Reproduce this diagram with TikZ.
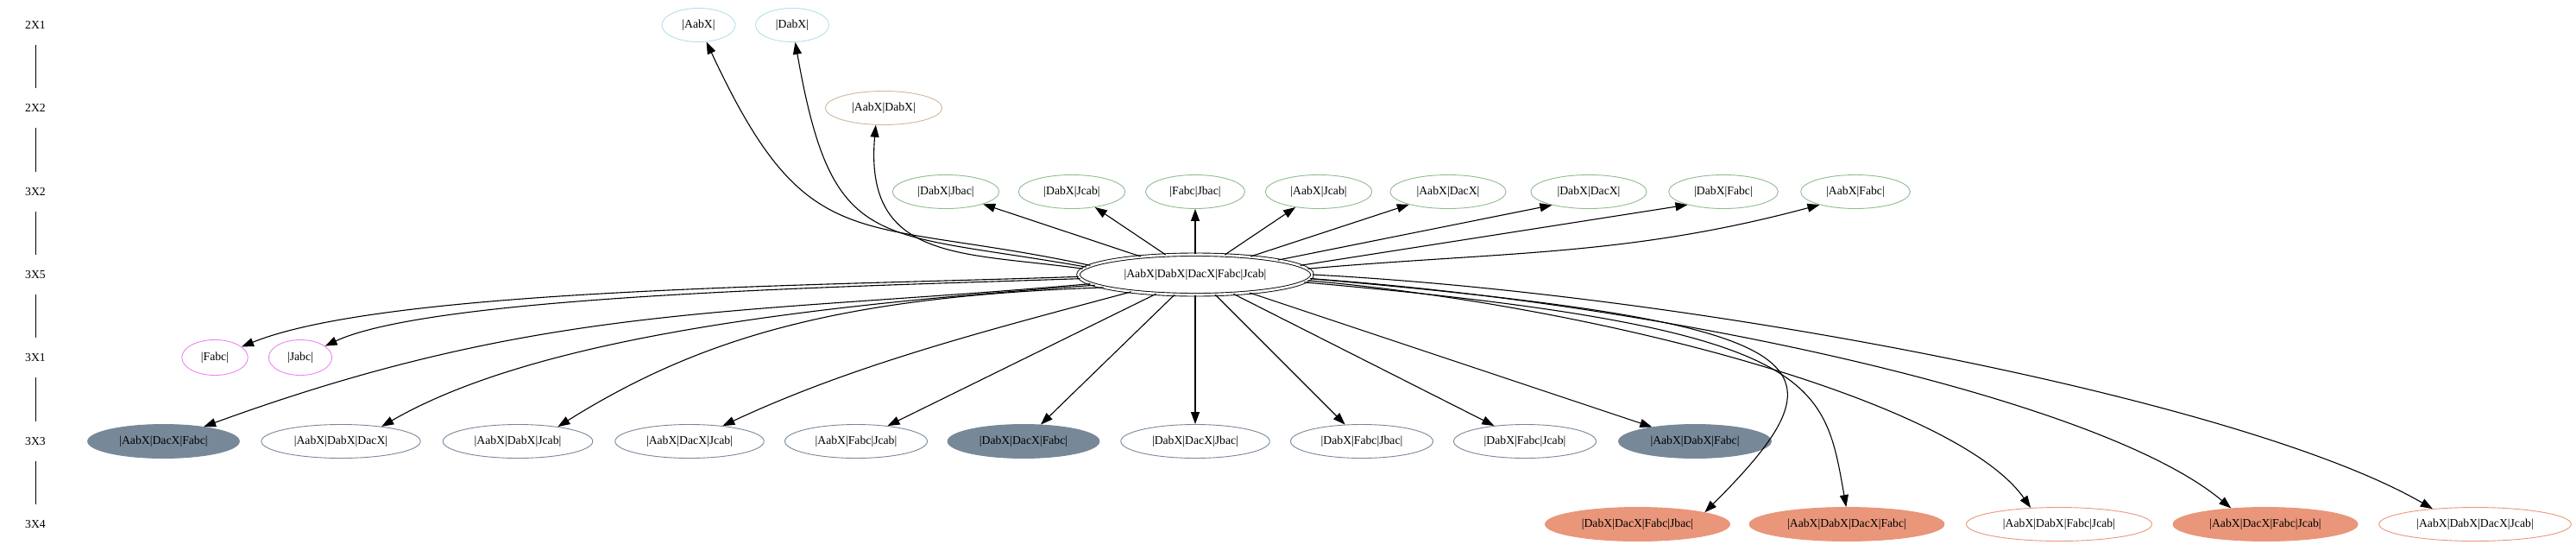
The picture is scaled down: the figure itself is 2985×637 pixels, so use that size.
\documentclass[tikz,border=0pt]{standalone}
\usepackage{fontspec}
\setmainfont{Liberation Serif}
\usetikzlibrary{shapes.geometric,arrows.meta}
\definecolor{pbl}{HTML}{B0E0E6}
\definecolor{bsq}{HTML}{CDB79E}
\definecolor{dsg}{HTML}{8FBC8F}
\definecolor{vio}{HTML}{EE82EE}
\definecolor{lsg}{HTML}{778899}
\definecolor{dsl}{HTML}{E9967A}

\begin{document}
\begin{tikzpicture}[x=0.5pt,y=0.5pt,
	>={Triangle[length=7pt,width=5pt]},
	every node/.style={font=\fontsize{6.85}{8}\selectfont},
	rowlab/.style={inner sep=0pt,minimum height=23pt},
	elli/.style={ellipse,draw,line width=0.45pt,inner xsep=5.5pt,inner ysep=0pt,minimum height=19.5pt},
	link/.style={->,line width=0.55pt}]
		\useasboundingbox (0,0) rectangle (2985,-637);
		\node[rowlab] (r1) at (41,-29) {2X1};
		\node[rowlab] (r2) at (41,-125) {2X2};
		\node[rowlab] (r3) at (41,-222) {3X2};
		\node[rowlab] (r4) at (41,-318) {3X5};
		\node[rowlab] (r5) at (41,-414) {3X1};
		\node[rowlab] (r6) at (41,-511) {3X3};
		\node[rowlab] (r7) at (41,-607) {3X4};
		\draw [line width=0.45pt] (r1) -- (r2);
		\draw [line width=0.45pt] (r2) -- (r3);
		\draw [line width=0.45pt] (r3) -- (r4);
		\draw [line width=0.45pt] (r4) -- (r5);
		\draw [line width=0.45pt] (r5) -- (r6);
		\draw [line width=0.45pt] (r6) -- (r7);
		\node[elli,draw=pbl] (aabx) at (809.5,-29) {|AabX|};
		\node[elli,draw=pbl] (dabx) at (918,-29) {|DabX|};
		\node[elli,draw=bsq] (aabxdabx) at (1024,-125) {|AabX|DabX|};
		\node[elli,draw=dsg] (dabxjbac) at (1096,-222) {|DabX|Jbac|};
		\node[elli,draw=dsg] (dabxjcab) at (1242,-222) {|DabX|Jcab|};
		\node[elli,draw=dsg] (fabcjbac) at (1385,-222) {|Fabc|Jbac|};
		\node[elli,draw=dsg] (aabxjcab) at (1528,-222) {|AabX|Jcab|};
		\node[elli,draw=dsg] (aabxdacx) at (1678,-222) {|AabX|DacX|};
		\node[elli,draw=dsg] (dabxdacx) at (1841,-222) {|DabX|DacX|};
		\node[elli,draw=dsg] (dabxfabc) at (1997,-222) {|DabX|Fabc|};
		\node[elli,draw=dsg] (aabxfabc) at (2150,-222) {|AabX|Fabc|};
		\node[elli,double,double distance=1.3pt,minimum width=135.5pt,minimum height=23.25pt] (full) at (1385,-318) {|AabX|DabX|DacX|Fabc|Jcab|};
		\node[elli,draw=vio,minimum height=20.5pt] (fabc) at (249,-414) {|Fabc|};
		\node[elli,draw=vio,minimum height=20.5pt] (jabc) at (348,-414) {|Jabc|};
		\node[elli,draw=lsg,fill=lsg] (aabxdacxfabc) at (189.5,-511) {|AabX|DacX|Fabc|};
		\node[elli,draw=lsg] (aabxdabxdacx) at (395,-511) {|AabX|DabX|DacX|};
		\node[elli,draw=lsg] (aabxdabxjcab) at (600,-511) {|AabX|DabX|Jcab|};
		\node[elli,draw=lsg] (aabxdacxjcab) at (799,-511) {|AabX|DacX|Jcab|};
		\node[elli,draw=lsg] (aabxfabcjcab) at (992,-511) {|AabX|Fabc|Jcab|};
		\node[elli,draw=lsg,fill=lsg] (dabxdacxfabc) at (1186,-511) {|DabX|DacX|Fabc|};
		\node[elli,draw=lsg] (dabxdacxjbac) at (1385,-511) {|DabX|DacX|Jbac|};
		\node[elli,draw=lsg] (dabxfabcjbac) at (1578,-511) {|DabX|Fabc|Jbac|};
		\node[elli,draw=lsg] (dabxfabcjcab) at (1767,-511) {|DabX|Fabc|Jcab|};
		\node[elli,draw=lsg,fill=lsg] (aabxdabxfabc) at (1964,-511) {|AabX|DabX|Fabc|};
		\node[elli,draw=dsl,fill=dsl] (dabxdacxfabcjbac) at (1897.5,-607) {|DabX|DacX|Fabc|Jbac|};
		\node[elli,draw=dsl,fill=dsl] (aabxdabxdacxfabc) at (2140,-607) {|AabX|DabX|DacX|Fabc|};
		\node[elli,draw=dsl] (aabxdabxfabcjcab) at (2386,-607) {|AabX|DabX|Fabc|Jcab|};
		\node[elli,draw=dsl,fill=dsl] (aabxdacxfabcjcab) at (2625,-607) {|AabX|DacX|Fabc|Jcab|};
		\node[elli,draw=dsl] (aabxdabxdacxjcab) at (2868,-607) {|AabX|DabX|DacX|Jcab|};
		\draw [link] (full.175) to [out=168,in=-65,out distance=140pt,in distance=140pt] (aabx);
		\draw [link] (full.176) to [out=170,in=-80,out distance=125pt,in distance=125pt] (dabx);
		\draw [link] (full.177) to [out=172,in=-95,out distance=70pt,in distance=80pt] (aabxdabx.-115);
		\draw [link] (full) -- (dabxjbac);
		\draw [link] (full) -- (dabxjcab);
		\draw [link] (full) -- (fabcjbac);
		\draw [link] (full) -- (aabxjcab);
		\draw [link] (full) -- (aabxdacx);
		\draw [link] (full.10) -- (dabxdacx.200);
		\draw [link] (full.5) -- (dabxfabc.200);
		\draw [link] (full.3) to [out=5,in=195,out distance=115pt,in distance=115pt] (aabxfabc.200);
		\draw [link] (full.181) to [out=182,in=22,out distance=150pt,in distance=90pt] (fabc);
		\draw [link] (full.182) to [out=182,in=25,out distance=125pt,in distance=70pt] (jabc);
		\draw [link] (full.185) to [out=185,in=20,out distance=209pt,in distance=209pt] (aabxdacxfabc);
		\draw [link] (full.186) to [out=184,in=30,out distance=175pt,in distance=100pt] (aabxdabxdacx.20);
		\draw [link] (full.188) to [out=182,in=32,out distance=150pt,in distance=100pt] (aabxdabxjcab.20);
		\draw [link] (full.195) to [out=195,in=25,out distance=85pt,in distance=85pt] (aabxdacxjcab);
		\draw [link] (full) -- (aabxfabcjcab);
		\draw [link] (full) -- (dabxdacxfabc);
		\draw [link] (full) -- (dabxdacxjbac);
		\draw [link] (full) -- (dabxfabcjbac);
		\draw [link] (full) -- (dabxfabcjcab);
		\draw [link] (full) -- (aabxdabxfabc);
		\draw [link] (full.-2) to [out=-5,in=45,out distance=300pt,in distance=125pt] (dabxdacxfabcjbac.10);
		\draw [link] (full.-4) to [out=-5,in=100,out distance=300pt,in distance=75pt] (aabxdabxdacxfabc.92);
		\draw [link] (full.-3) to [out=-5,in=125,out distance=172pt,in distance=75pt] (aabxdabxfabcjcab.150);
		\draw [link] (full.-2) to [out=-4,in=140,out distance=200pt,in distance=100pt] (aabxdacxfabcjcab.155);
		\draw [link] (full.0) to [out=-3,in=150,out distance=225pt,in distance=125pt] (aabxdabxdacxjcab.160);
\end{tikzpicture}
\end{document}
